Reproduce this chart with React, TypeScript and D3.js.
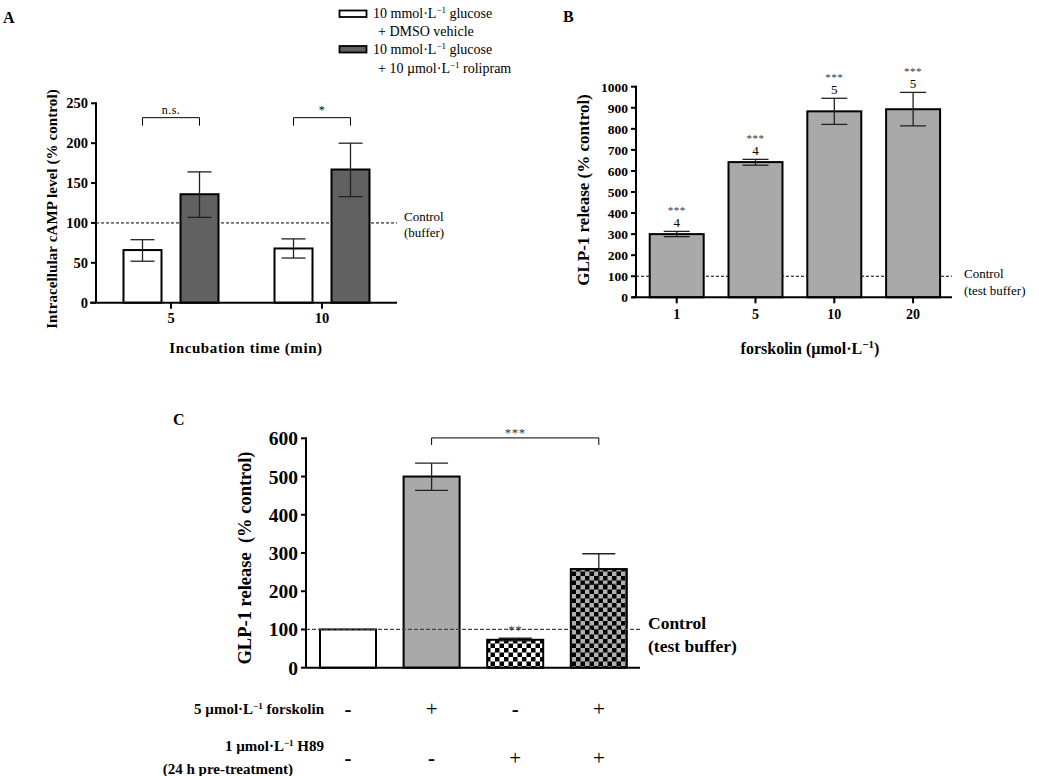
import React from "react";
import * as d3 from "d3";

// ---------- Panel A data ----------
const aCategories = ["5", "10"];
const aSeries = ["vehicle", "rolipram"];
const aVehicle = [66, 68];
const aVehicleLow = [52, 56];
const aVehicleHigh = [79, 80];
const aRolipram = [136, 167];
const aRolipramLow = [107, 133];
const aRolipramHigh = [164, 200];
const aYTicks = [0, 50, 100, 150, 200, 250];
const aSig = ["n.s.", "*"];
const aBracketValue = 232;

// ---------- Panel B data ----------
const bCategories = ["1", "5", "10", "20"];
const bValues = [300, 642, 883, 893];
const bLow = [288, 627, 821, 814];
const bHigh = [313, 655, 945, 973];
const bN = ["4", "4", "5", "5"];
const bSig = ["***", "***", "***", "***"];
const bYTicks = [0, 100, 200, 300, 400, 500, 600, 700, 800, 900, 1000];

// ---------- Panel C data ----------
const cGroups = ["control", "forskolin", "h89", "forskolin+h89"];
const cValues = [100, 500, 73, 258];
const cLow = [100, 464, 70, 218];
const cHigh = [100, 535, 77, 298];
const cForskolin = ["-", "+", "-", "+"];
const cH89 = ["-", "-", "+", "+"];
const cSig = ["", "", "**", ""];
const cYTicks = [0, 100, 200, 300, 400, 500, 600];
const cBracketValue = 601;

const controlValue = 100;

const FONT = "'Liberation Serif', 'Times New Roman', Times, serif";

function Unit({ pre, post, sup = "\u22121", supSize = 9, dy = 5 }: any) {
  return (
    <>
      <tspan>{pre}</tspan>
      <tspan dy={-dy} fontSize={supSize}>{sup}</tspan>
      <tspan dy={dy}>{post}</tspan>
    </>
  );
}

function ErrorBar({ x, y1, y2, cap, color = "#111", sw = 1.3 }: any) {
  return (
    <g stroke={color} strokeWidth={sw}>
      <line x1={x} x2={x} y1={y1} y2={y2} />
      <line x1={x - cap / 2} x2={x + cap / 2} y1={y1} y2={y1} />
      <line x1={x - cap / 2} x2={x + cap / 2} y1={y2} y2={y2} />
    </g>
  );
}

export default function App() {
  // ----- Panel A scales -----
  const ay = d3.scaleLinear().domain([0, 250]).range([302.7, 103.3]);
  const ax = d3.scaleBand().domain(aCategories).range([95.5, 397.5]).paddingInner(0).paddingOuter(0);
  const axInner = d3.scaleBand().domain(aSeries).range([-47.5, 47.5]).paddingInner(1 / 3);
  const aAxisX0 = 96;
  const aAxisX1 = 397;

  // ----- Panel B scales -----
  const by = d3.scaleLinear().domain([0, 1000]).range([297.3, 86.7]);
  const bxP = 0.315;
  const bx = d3.scaleBand().domain(bCategories).range([637.3, 952.5]).paddingInner(bxP).paddingOuter(bxP / 2);
  const bAxisX0 = 636;
  const bAxisX1 = 952;

  // ----- Panel C scales -----
  const cy = d3.scaleLinear().domain([0, 600]).range([667.7, 438.3]);
  const cxP = 0.33;
  const cx = d3.scaleBand().domain(cGroups).range([306.2, 640.6]).paddingInner(cxP).paddingOuter(cxP / 2);
  const cAxisX0 = 306;
  const cAxisX1 = 640;

  const aBars: any[] = [];
  aCategories.forEach((c, i) => {
    aBars.push({ c, s: "vehicle", v: aVehicle[i], lo: aVehicleLow[i], hi: aVehicleHigh[i], fill: "#ffffff" });
    aBars.push({ c, s: "rolipram", v: aRolipram[i], lo: aRolipramLow[i], hi: aRolipramHigh[i], fill: "#616161" });
  });

  const cFills = ["#ffffff", "#a9a9a9", "url(#checkBW)", "url(#checkBG)"];

  return (
    <svg
      width={1039}
      height={776}
      style={{ position: "absolute", left: 0, top: 0, background: "#fff" }}
      fontFamily={FONT}
    >
      <defs>
        <pattern id="checkBW" width={9} height={9} patternUnits="userSpaceOnUse" x={0} y={0}>
          <rect width={9} height={9} fill="#ffffff" />
          <rect width={4.5} height={4.5} fill="#000" />
          <rect x={4.5} y={4.5} width={4.5} height={4.5} fill="#000" />
        </pattern>
        <pattern id="checkBG" width={9} height={9} patternUnits="userSpaceOnUse" x={0} y={0}>
          <rect width={9} height={9} fill="#b0b0b0" />
          <rect width={4.5} height={4.5} fill="#000" />
          <rect x={4.5} y={4.5} width={4.5} height={4.5} fill="#000" />
        </pattern>
      </defs>

      {/* ================= Panel A ================= */}
      <text x={3} y={23} fontSize={16} fontWeight="bold">A</text>

      {/* legend */}
      <rect x={339.5} y={10.5} width={27} height={6.5} fill="#fff" stroke="#000" strokeWidth={1.8} />
      <text x={373} y={18} fontSize={14}>
        <Unit pre="10 mmol·L" post=" glucose" />
      </text>
      <text x={378} y={36} fontSize={14}>+ DMSO vehicle</text>
      <rect x={339.5} y={46} width={27} height={6.5} fill="#616161" stroke="#000" strokeWidth={1.8} />
      <text x={373} y={54} fontSize={14}>
        <Unit pre="10 mmol·L" post=" glucose" />
      </text>
      <text x={378} y={73} fontSize={14}>
        <Unit pre="+ 10 µmol·L" post=" rolipram" />
      </text>

      {/* control line */}
      <line x1={aAxisX0} x2={aAxisX1} y1={ay(controlValue)} y2={ay(controlValue)} stroke="#000" strokeWidth={1} strokeDasharray="3,2" />
      <text x={404} y={221} fontSize={13}>Control</text>
      <text x={404} y={237} fontSize={13}>(buffer)</text>

      {/* bars */}
      {aBars.map((b, i) => {
        const x = (ax(b.c) as number) + ax.bandwidth() / 2 + (axInner(b.s) as number);
        const w = axInner.bandwidth();
        return (
          <g key={"ab" + i}>
            <rect x={x} y={ay(b.v)} width={w} height={ay(0) - ay(b.v)} fill={b.fill} stroke="#000" strokeWidth={2} />
            <ErrorBar x={x + w / 2} y1={ay(b.hi)} y2={ay(b.lo)} cap={24} color="#222" />
          </g>
        );
      })}

      {/* significance brackets */}
      {aCategories.map((c, i) => {
        const xa = (ax(c) as number) + ax.bandwidth() / 2 + (axInner("vehicle") as number) + axInner.bandwidth() / 2;
        const xb = (ax(c) as number) + ax.bandwidth() / 2 + (axInner("rolipram") as number) + axInner.bandwidth() / 2;
        const yb = ay(aBracketValue);
        return (
          <g key={"abr" + i}>
            <path d={`M${xa},${yb + 8}V${yb}H${xb}V${yb + 8}`} fill="none" stroke="#000" strokeWidth={1} />
            <text x={(xa + xb) / 2} y={yb - 4} fontSize={12} textAnchor="middle" letterSpacing={0.5}>{aSig[i]}</text>
          </g>
        );
      })}

      {/* axes */}
      <line x1={aAxisX0} x2={aAxisX0} y1={ay(250) - 1} y2={ay(0)} stroke="#000" strokeWidth={2} />
      <line x1={90} x2={aAxisX1} y1={ay(0)} y2={ay(0)} stroke="#000" strokeWidth={2} />
      {aYTicks.map((t) => (
        <g key={"ayt" + t}>
          <line x1={aAxisX0 - 5} x2={aAxisX0} y1={ay(t)} y2={ay(t)} stroke="#000" strokeWidth={2} />
          <text x={aAxisX0 - 8} y={ay(t) + 5} fontSize={14.5} fontWeight="bold" textAnchor="end">{t}</text>
        </g>
      ))}
      {aCategories.map((c) => {
        const x = (ax(c) as number) + ax.bandwidth() / 2;
        return (
          <g key={"axt" + c}>
            <line x1={x} x2={x} y1={ay(0)} y2={ay(0) + 6} stroke="#000" strokeWidth={2} />
            <text x={x} y={323} fontSize={14.5} fontWeight="bold" textAnchor="middle">{c}</text>
          </g>
        );
      })}
      <text x={246} y={353} fontSize={15} fontWeight="bold" textAnchor="middle" letterSpacing={0.6}>Incubation time (min)</text>
      <text
        transform={`translate(57,209) rotate(-90)`}
        fontSize={15}
        fontWeight="bold"
        textAnchor="middle"
        letterSpacing={0.1}
      >
        Intracellular cAMP level (% control)
      </text>

      {/* ================= Panel B ================= */}
      <text x={563} y={22} fontSize={16} fontWeight="bold">B</text>

      <line x1={bAxisX0} x2={bAxisX1} y1={by(controlValue)} y2={by(controlValue)} stroke="#000" strokeWidth={1} strokeDasharray="3,2" />
      <text x={964} y={278} fontSize={13}>Control</text>
      <text x={964} y={295} fontSize={13}>(test buffer)</text>

      {bCategories.map((c, i) => {
        const x = bx(c) as number;
        const w = bx.bandwidth();
        const cxm = x + w / 2;
        return (
          <g key={"bb" + i}>
            <rect x={x} y={by(bValues[i])} width={w} height={by(0) - by(bValues[i])} fill="#a9a9a9" stroke="#000" strokeWidth={2} />
            <ErrorBar x={cxm} y1={by(bHigh[i])} y2={by(bLow[i])} cap={26} color="#222" />
            <text x={cxm} y={by(bHigh[i]) - 4} fontSize={13} textAnchor="middle">{bN[i]}</text>
            <text x={cxm} y={by(bHigh[i]) - 17} fontSize={11} textAnchor="middle" letterSpacing={0.5} fill="#333">{bSig[i]}</text>
          </g>
        );
      })}

      <line x1={bAxisX0} x2={bAxisX0} y1={by(1000) - 1} y2={by(0)} stroke="#000" strokeWidth={2} />
      <line x1={631.5} x2={bAxisX1} y1={by(0)} y2={by(0)} stroke="#000" strokeWidth={2} />
      {bYTicks.map((t) => (
        <g key={"byt" + t}>
          <line x1={bAxisX0 - 5} x2={bAxisX0} y1={by(t)} y2={by(t)} stroke="#000" strokeWidth={2} />
          <text x={bAxisX0 - 8} y={by(t) + 5} fontSize={13.5} fontWeight="bold" textAnchor="end">{t}</text>
        </g>
      ))}
      {bCategories.map((c) => {
        const x = (bx(c) as number) + bx.bandwidth() / 2;
        return (
          <g key={"bxt" + c}>
            <line x1={x} x2={x} y1={by(0)} y2={by(0) + 6} stroke="#000" strokeWidth={2} />
            <text x={x} y={319} fontSize={14} fontWeight="bold" textAnchor="middle">{c}</text>
          </g>
        );
      })}
      <text x={810} y={354} fontSize={16} fontWeight="bold" textAnchor="middle">
        <Unit pre="forskolin (µmol·L" post=")" supSize={11} dy={6} />
      </text>
      <text transform={`translate(589,190) rotate(-90)`} fontSize={17} fontWeight="bold" textAnchor="middle">
        GLP-1 release (% control)
      </text>

      {/* ================= Panel C ================= */}
      <text x={173} y={425} fontSize={16} fontWeight="bold">C</text>

      {cGroups.map((g, i) => {
        const x = cx(g) as number;
        const w = cx.bandwidth();
        const cxm = x + w / 2;
        return (
          <g key={"cb" + i}>
            <rect x={x} y={cy(cValues[i])} width={w} height={cy(0) - cy(cValues[i])} fill={cFills[i]} stroke="#000" strokeWidth={2} />
            {cHigh[i] !== cLow[i] && (
              <ErrorBar x={cxm} y1={cy(cHigh[i])} y2={cy(cLow[i])} cap={33} color="#222" />
            )}
            {cSig[i] && (
              <text x={cxm} y={cy(cHigh[i]) - 4} fontSize={13} textAnchor="middle" letterSpacing={0.5} fill="#333">{cSig[i]}</text>
            )}
          </g>
        );
      })}

      <line x1={cAxisX0} x2={641} y1={cy(controlValue)} y2={cy(controlValue)} stroke="#444" strokeWidth={1.2} strokeDasharray="4,2" />
      <text x={648} y={629} fontSize={17.5} fontWeight="bold">Control</text>
      <text x={648} y={652} fontSize={17.5} fontWeight="bold">(test buffer)</text>

      {/* bracket */}
      {(() => {
        const xa = (cx(cGroups[1]) as number) + cx.bandwidth() / 2;
        const xb = (cx(cGroups[3]) as number) + cx.bandwidth() / 2;
        const yb = cy(cBracketValue);
        return (
          <g>
            <path d={`M${xa},${yb + 7}V${yb}H${xb}V${yb + 7}`} fill="none" stroke="#000" strokeWidth={1} />
            <text x={(xa + xb) / 2} y={yb - 1} fontSize={13} textAnchor="middle" letterSpacing={0.5} fill="#333">***</text>
          </g>
        );
      })()}

      <line x1={cAxisX0} x2={cAxisX0} y1={cy(600) - 1} y2={cy(0)} stroke="#000" strokeWidth={2} />
      <line x1={cAxisX0} x2={cAxisX1} y1={cy(0)} y2={cy(0)} stroke="#000" strokeWidth={2} />
      {cYTicks.map((t) => (
        <g key={"cyt" + t}>
          <line x1={cAxisX0 - 5} x2={cAxisX0} y1={cy(t)} y2={cy(t)} stroke="#000" strokeWidth={2} />
          <text x={cAxisX0 - 8} y={cy(t) + 7} fontSize={19.5} fontWeight="bold" textAnchor="end">{t}</text>
        </g>
      ))}
      <text
        transform={`translate(251,558) rotate(-90)`}
        fontSize={18.5}
        fontWeight="bold"
        textAnchor="middle"
        style={{ whiteSpace: "pre" }}
      >
        {"GLP-1 release  (% control)"}
      </text>

      {/* treatment table */}
      <text x={324} y={714} fontSize={15} fontWeight="bold" textAnchor="end">
        <Unit pre="5 µmol·L" post=" forskolin" />
      </text>
      <text x={324} y={751} fontSize={15} fontWeight="bold" textAnchor="end">
        <Unit pre="1 µmol·L" post=" H89" />
      </text>
      <text x={293} y={774} fontSize={15} fontWeight="bold" textAnchor="end">(24 h pre-treatment)</text>
      {cGroups.map((g, i) => {
        const x = (cx(g) as number) + cx.bandwidth() / 2;
        return (
          <g key={"ct" + i}>
            <text x={x} y={716} fontSize={21} fontWeight={cForskolin[i] === "-" ? "bold" : "normal"} textAnchor="middle">{cForskolin[i]}</text>
            <text x={x} y={765} fontSize={21} fontWeight={cH89[i] === "-" ? "bold" : "normal"} textAnchor="middle">{cH89[i]}</text>
          </g>
        );
      })}
    </svg>
  );
}
